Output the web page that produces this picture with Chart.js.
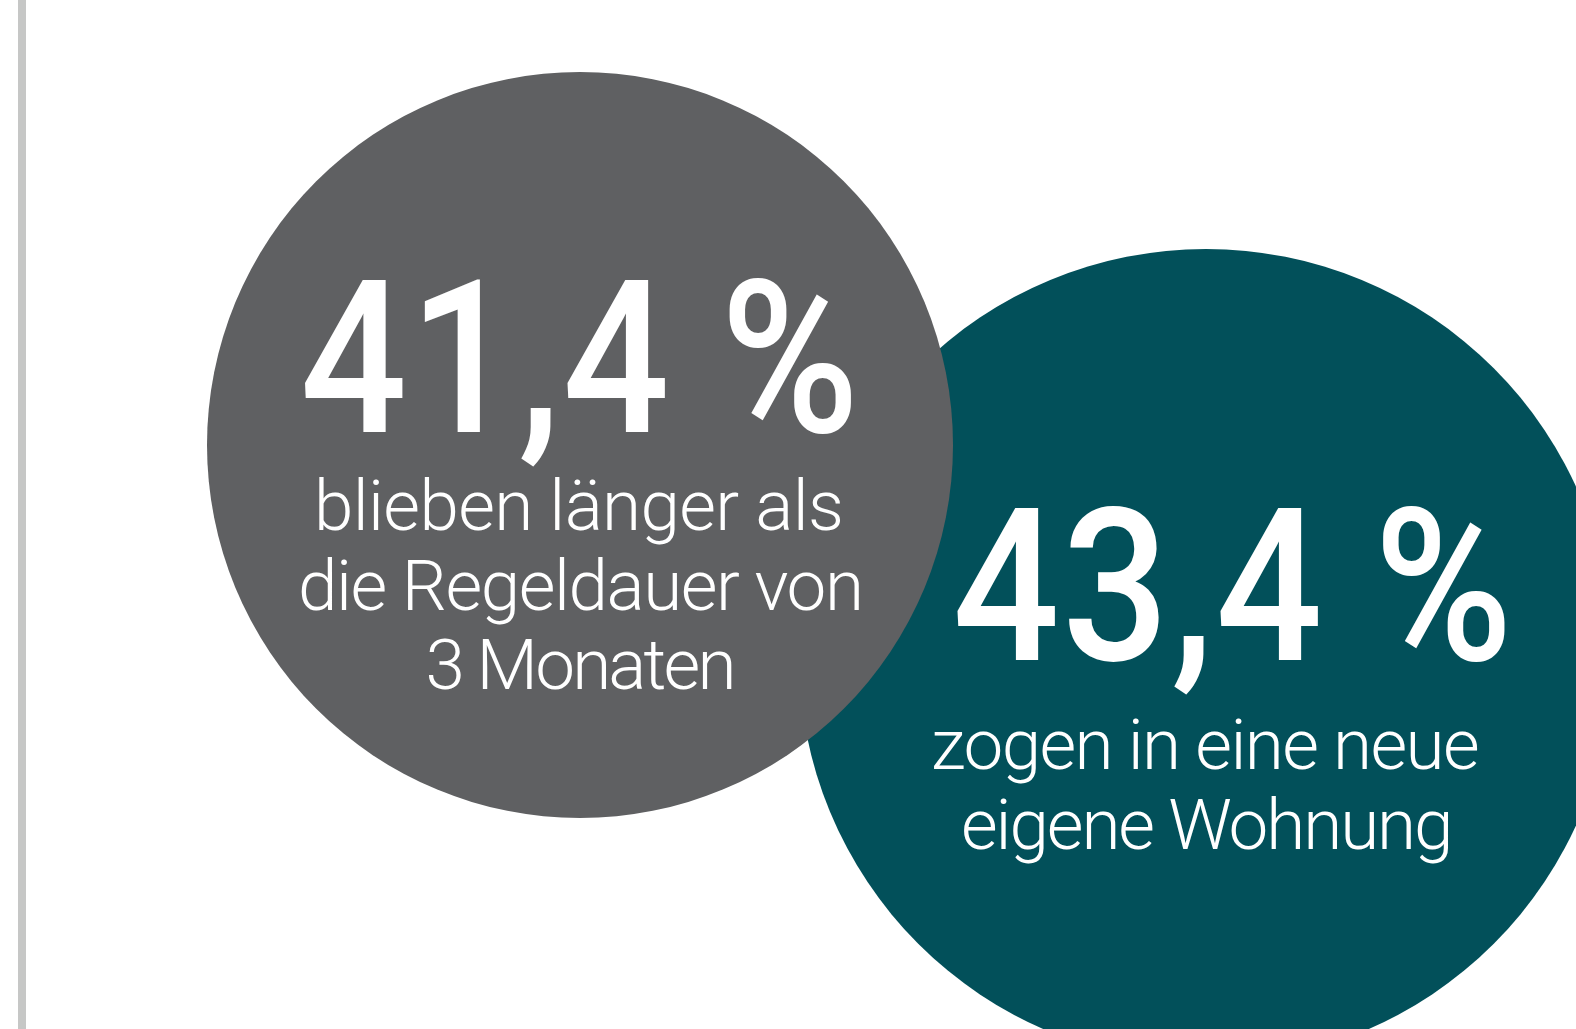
<!DOCTYPE html>
<html lang="de">
<head>
<meta charset="utf-8">
<title>Verbleib</title>
<script src="https://cdn.jsdelivr.net/npm/chart.js@4/dist/chart.umd.min.js"></script>
<style>
    html, body { margin: 0; padding: 0; background: #fff; }
    #wrap { position: relative; width: 1576px; height: 1029px; overflow: hidden; }
    #bar { position: absolute; left: 18px; top: 0; width: 8px; height: 100%; background: #c6c7c6; }
    canvas { position: absolute; left: 0; top: 0; }
</style>
</head>
<body>
<div id="wrap">
    <div id="bar"></div>
    <canvas id="chart" width="1576" height="1029"></canvas>
</div>
<script>
// Daten
const categories = ['Verweildauer', 'Wohnung'];
const values = [41.4, 43.4];
const captions = [
    ['blieben länger als', 'die Regeldauer von', '3 Monaten'],
    ['zogen in eine neue', 'eigene Wohnung']
];
const colors = ['#5f6062', '#02505a'];

// Layout (Pixel auf einer 1576x1029 Fläche)
const centers = [{ x: 580, y: 445 }, { x: 1206, y: 656 }];
const radii = [373, 407];
const numberLayout = [
    { dx: -2, dy: -13, size: 214, width: 547, sx: 0.88 },
    { dx: 25, dy: 4, size: 214, width: 548, sx: 0.88 }
];
const captionLayout = [
    { dy: [85, 165, 244], size: 71, width: [522, 558, 303] },
    { dy: [113, 193], size: 71, width: [544, 484] }
];

const fmt = v => v.toLocaleString('de-DE', { minimumFractionDigits: 1, maximumFractionDigits: 1 }) + ' %';

// Text auf eine Zielbreite bringen (über letterSpacing, optional schmaler)
function fitText(ctx, text, cx, baseline, target, sx = 1) {
    ctx.save();
    ctx.letterSpacing = '0px';
    const m = ctx.measureText(text);
    const glyphW = m.actualBoundingBoxLeft + m.actualBoundingBoxRight;
    const n = [...text].length;
    const ls = n > 1 ? (target / sx - glyphW) / (n - 1) : 0;
    ctx.letterSpacing = ls + 'px';
    ctx.textAlign = 'left';
    ctx.translate(cx - target / 2, baseline);
    ctx.scale(sx, 1);
    ctx.fillText(text, m.actualBoundingBoxLeft, 0);
    ctx.restore();
}

const labelPlugin = {
    id: 'bubbleLabels',
    afterDatasetsDraw(chart) {
        const ctx = chart.ctx;
        ctx.save();
        ctx.fillStyle = '#ffffff';
        ctx.textBaseline = 'alphabetic';
        chart.data.datasets.forEach((ds, i) => {
            const el = chart.getDatasetMeta(i).data[0];
            const nl = numberLayout[i];
            ctx.font = '500 ' + nl.size + 'px Roboto, "DejaVu Sans", sans-serif';
            fitText(ctx, fmt(values[i]), el.x + nl.dx, el.y + nl.dy, nl.width, nl.sx);

            const cl = captionLayout[i];
            ctx.font = '300 ' + cl.size + 'px Roboto, "DejaVu Sans", sans-serif';
            captions[i].forEach((line, j) => {
                fitText(ctx, line, el.x, el.y + cl.dy[j], cl.width[j]);
            });
        });
        ctx.restore();
    }
};

const ctxChart = document.getElementById('chart').getContext('2d');
new Chart(ctxChart, {
    type: 'bubble',
    data: {
        labels: categories,
        datasets: categories.map((c, i) => ({
            label: c,
            data: [{ x: centers[i].x, y: centers[i].y, r: radii[i] }],
            backgroundColor: colors[i],
            borderWidth: 0,
            hoverRadius: 0,
            clip: false
        }))
    },
    options: {
        responsive: false,
        animation: false,
        events: [],
        layout: { padding: 0, autoPadding: false },
        scales: {
            x: { type: 'linear', min: 0, max: 1576, display: false },
            y: { type: 'linear', min: 0, max: 1029, reverse: true, display: false }
        },
        plugins: {
            legend: { display: false },
            tooltip: { enabled: false }
        }
    },
    plugins: [labelPlugin]
});
</script>
</body>
</html>
